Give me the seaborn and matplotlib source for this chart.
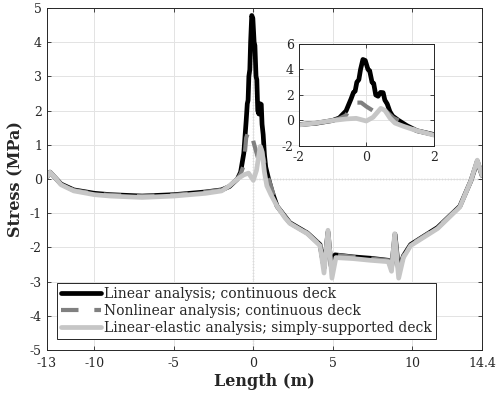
import numpy as np
import pandas as pd
import seaborn as sns
import matplotlib.pyplot as plt

# Stress along the deck length (m, MPa)
lin_x = [-13.0, -12.8, -12.5, -12.1, -11.3, -10.0, -9.0, -7.0, -5.0, -3.0, -2.0, -1.5,
         -1.0, -0.8, -0.6, -0.45, -0.38, -0.33, -0.28, -0.22, -0.17, -0.1, -0.03, 0.05,
         0.1, 0.17, 0.22, 0.28, 0.35, 0.42, 0.5, 0.55, 0.62, 0.7, 0.78, 0.95, 1.2, 1.5,
         2.0, 2.3, 3.4, 4.2, 4.45, 4.7, 4.9, 5.15, 6.3, 7.4, 8.5,
         8.7, 8.92, 9.15, 9.45, 9.9, 11.6, 13.0, 13.7, 14.1, 14.4]
lin_y = [0.05, 0.2, 0.05, -0.15, -0.32, -0.42, -0.46, -0.5, -0.46, -0.38, -0.32, -0.22,
         0.0, 0.2, 0.75, 1.7, 2.2, 2.3, 3.0, 3.2, 4.0, 4.78, 4.7, 4.0,
         3.9, 3.0, 2.9, 2.0, 1.9, 2.2, 2.18, 1.6, 1.3, 0.7, 0.35, 0.02, -0.4, -0.8,
         -1.1, -1.28, -1.58, -1.92, -2.6, -1.55, -2.55, -2.22, -2.28, -2.32, -2.38,
         -2.6, -1.62, -2.7, -2.25, -1.92, -1.42, -0.8, -0.05, 0.52, 0.1]

nl_x = [-13.0, -12.8, -12.5, -12.1, -11.3, -10.0, -9.0, -7.0, -5.0, -3.0, -2.0, -1.5,
        -1.0, -0.8, -0.6, -0.45, -0.3, -0.15, 0.0, 0.12, 0.3, 0.45, 0.6, 0.8, 1.0, 1.2,
        1.5, 2.0, 2.3, 3.4, 4.2, 4.45, 4.7, 4.9, 5.15, 6.3, 7.4, 8.5,
        8.7, 8.92, 9.15, 9.45, 9.9, 11.6, 13.0, 13.7, 14.1, 14.4]
nl_y = [0.05, 0.2, 0.05, -0.15, -0.33, -0.43, -0.47, -0.5, -0.47, -0.38, -0.32, -0.22,
        0.0, 0.15, 0.4, 1.2, 1.4, 1.4, 1.1, 0.9, 0.6, 1.0, 0.7, 0.2, -0.05, -0.35,
        -0.8, -1.1, -1.28, -1.58, -1.92, -2.62, -1.55, -2.58, -2.22, -2.28, -2.33, -2.38,
        -2.62, -1.62, -2.72, -2.25, -1.92, -1.42, -0.8, -0.05, 0.52, 0.1]

el_x = [-13.0, -12.8, -12.5, -12.1, -11.3, -10.0, -9.0, -7.0, -5.0, -3.0, -2.0, -1.5,
        -1.0, -0.6, -0.3, 0.0, 0.2, 0.43, 0.55, 0.7, 0.85, 1.1, 1.5, 2.0, 2.3, 3.4, 4.2,
        4.45, 4.7, 4.95, 5.2, 6.3, 7.4, 8.5, 8.7, 8.9, 9.15, 9.45, 9.9, 11.6, 13.0, 13.7,
        14.1, 14.4]
el_y = [0.05, 0.2, 0.05, -0.17, -0.35, -0.46, -0.5, -0.54, -0.5, -0.42, -0.35, -0.2,
        0.0, 0.12, 0.17, -0.04, 0.25, 0.95, 0.8, 0.2, -0.2, -0.45, -0.8, -1.14, -1.3, -1.6, -1.95,
        -2.75, -1.5, -2.9, -2.3, -2.33, -2.38, -2.42, -2.7, -1.6, -2.9, -2.3, -1.95, -1.45, -0.82, -0.05,
        0.55, 0.1]

labels = ['Linear analysis; continuous deck',
          'Nonlinear analysis; continuous deck',
          'Linear-elastic analysis; simply-supported deck']

sns.set_style('ticks')
plt.rcParams['font.family'] = ['DejaVu Serif']
plt.rcParams['xtick.direction'] = 'in'
plt.rcParams['ytick.direction'] = 'in'

edge = '#262626'
styles = [dict(color='black', lw=3.4),
          dict(color='#808080', lw=3.0, dashes=(4.2, 3.8)),
          dict(color='#c6c6c6', lw=3.4)]
series = [(lin_x, lin_y), (nl_x, nl_y), (el_x, el_y)]


def draw(axis, with_labels):
    for (xs, ys), lab, st in zip(series, labels, styles):
        df = pd.DataFrame({'x': xs, 'y': ys})
        st = dict(st)
        dashes = st.pop('dashes', None)
        if with_labels:
            sns.lineplot(data=df, x='x', y='y', ax=axis, sort=False, label=lab, **st)
        else:
            sns.lineplot(data=df, x='x', y='y', ax=axis, sort=False, legend=False, **st)
        if dashes is not None:
            axis.lines[-1].set_dashes(dashes)


def frame(axis):
    axis.grid(True, color='#e3e3e3', lw=0.7)
    axis.set_axisbelow(True)
    axis.tick_params(labelsize=9, colors=edge, top=True, right=True, length=3, width=0.6)
    for sp in axis.spines.values():
        sp.set_visible(True)
        sp.set_color(edge)
        sp.set_linewidth(0.7)


fig = plt.figure(figsize=(4.98, 3.99), dpi=100)
ax = fig.add_axes([0.094, 0.123, 0.874, 0.857])
draw(ax, True)

ax.axvline(0, color='black', ls=':', lw=0.8, zorder=0.5)
ax.plot([0, 14.4], [0, 0], color='black', ls=':', lw=0.8, zorder=0.5)

ax.set_xlim(-13, 14.4)
ax.set_ylim(-5, 5)
ax.set_xticks([-13, -10, -5, 0, 5, 10, 14.4])
ax.set_xticklabels(['-13', '-10', '-5', '0', '5', '10', '14.4'])
ax.set_yticks(range(-5, 6))
ax.set_yticklabels([str(v) for v in range(-5, 6)])
frame(ax)
ax.tick_params(axis='x', pad=5)
ax.set_xlabel('Length (m)', fontsize=11.5, fontweight='bold', labelpad=2)
ax.set_ylabel('Stress (MPa)', fontsize=11.5, fontweight='bold', labelpad=4)

handles, _ = ax.get_legend_handles_labels()
leg = ax.legend(handles, labels, loc='lower left', bbox_to_anchor=(0.023, 0.032),
                fontsize=10, handlelength=2.9, handletextpad=0.2, labelspacing=0.2,
                borderpad=0.3, borderaxespad=0.0, fancybox=False, framealpha=1)
leg.get_frame().set_edgecolor(edge)
leg.get_frame().set_linewidth(0.7)

# inset zoom around the pier
ins = fig.add_axes([0.600, 0.634, 0.271, 0.256])
draw(ins, False)
ins.set_xlim(-2, 2)
ins.set_ylim(-2, 6)
ins.set_xticks([-2, 0, 2])
ins.set_yticks([-2, 0, 2, 4, 6])
ins.set_xticklabels(['-2', '0', '2'])
ins.set_yticklabels(['-2', '0', '2', '4', '6'])
ins.set_xlabel('')
ins.set_ylabel('')
frame(ins)

plt.savefig('out.png', dpi=100)
